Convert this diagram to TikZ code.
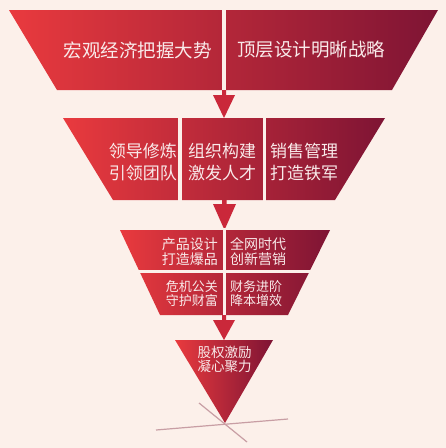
\documentclass[tikz,border=0pt]{standalone}
\usepackage{fontspec}
\newfontfamily\cjk{Noto Sans CJK SC}
\definecolor{bg}{RGB}{252,240,234}
\definecolor{redL}{RGB}{233,58,62}
\definecolor{redR}{RGB}{126,20,52}
\definecolor{arrowred}{RGB}{202,40,58}
\definecolor{txt}{RGB}{249,234,234}
\definecolor{axisline}{RGB}{200,158,164}
\tikzset{
  band/.style={left color=redL,right color=redR},
  gapline/.style={draw=bg,line width=4pt},
  lbl/.style={text=txt,inner sep=0pt,align=left},
  arrowshape/.style={fill=arrowred,draw=none},
}
\begin{document}
\begin{tikzpicture}[x=1pt,y=-1pt]
\fill[bg] (0,0) rectangle (446,448);
\useasboundingbox (0,0) rectangle (446,448);
% band 1
\shade[band] (9,10) -- (438,10) -- (392,90) -- (57,90) -- cycle;
\draw[gapline] (224,8) -- (224,92);
\node[lbl,anchor=east,font=\cjk\fontsize{18.5}{22}\selectfont] (b1l) at (212,50) {宏观经济把握大势};
\node[lbl,anchor=west,font=\cjk\fontsize{18.5}{22}\selectfont] (b1r) at (237,50) {顶层设计明晰战略};
\fill[arrowshape] (222,90) -- (226,90) -- (226,95) -- (235,95) -- (224,118) -- (213,95) -- (222,95) -- cycle;
% band 2
\shade[band] (63,118) -- (385,118) -- (335,200) -- (113,200) -- cycle;
\draw[gapline,line width=3.5pt] (180,116) -- (180,202);
\draw[gapline,line width=3.5pt] (264.5,116) -- (264.5,202);
\node[lbl,anchor=east,font=\cjk\fontsize{17}{22}\selectfont] (b2l) at (177,162) {领导修炼\\引领团队};
\node[lbl,anchor=west,font=\cjk\fontsize{17}{22}\selectfont] (b2m) at (188,162) {组织构建\\激发人才};
\node[lbl,anchor=west,font=\cjk\fontsize{17}{22}\selectfont] (b2r) at (270,162) {销售管理\\打造铁军};
\fill[arrowshape] (222,200) -- (226.5,200) -- (226.5,204) -- (236,204) -- (224.5,230) -- (213,204) -- (222,204) -- cycle;
% band 3
\shade[band] (120,230) -- (330,230) -- (288,315) -- (160,315) -- cycle;
\draw[gapline,line width=3pt] (224.5,228) -- (224.5,317);
\draw[gapline,line width=2.5pt] (130,271.5) -- (318,271.5);
\node[lbl,anchor=east,font=\cjk\fontsize{14}{15}\selectfont] (b3a) at (218,251.5) {产品设计\\打造爆品};
\node[lbl,anchor=west,font=\cjk\fontsize{14}{15}\selectfont] (b3b) at (230,251.5) {全网时代\\创新营销};
\node[lbl,anchor=east,font=\cjk\fontsize{13}{13.5}\selectfont] (b3c) at (218,293.5) {危机公关\\守护财富};
\node[lbl,anchor=west,font=\cjk\fontsize{13}{13.5}\selectfont] (b3d) at (230,293.5) {财务进阶\\降本增效};
\fill[arrowshape] (222,315) -- (226,315) -- (226,320) -- (235,320) -- (224,340) -- (213,320) -- (222,320) -- cycle;
% axis lines
\coordinate (l1a) at (156,430);
\coordinate (l1b) at (288,419);
\coordinate (l2a) at (199,403);
\coordinate (l2b) at (247,442);
\draw[axisline,line width=1.2pt] (l1a) -- (l1b);
\draw[axisline,line width=1.2pt] (l2a) -- (l2b);
% triangle
\shade[band] (175,340) -- (273,340) -- (225,423) -- cycle;
\node[lbl,anchor=center,font=\cjk\fontsize{13.5}{13.5}\selectfont] (tri) at (224.5,359.5) {股权激励\\凝心聚力};
\end{tikzpicture}
\end{document}
